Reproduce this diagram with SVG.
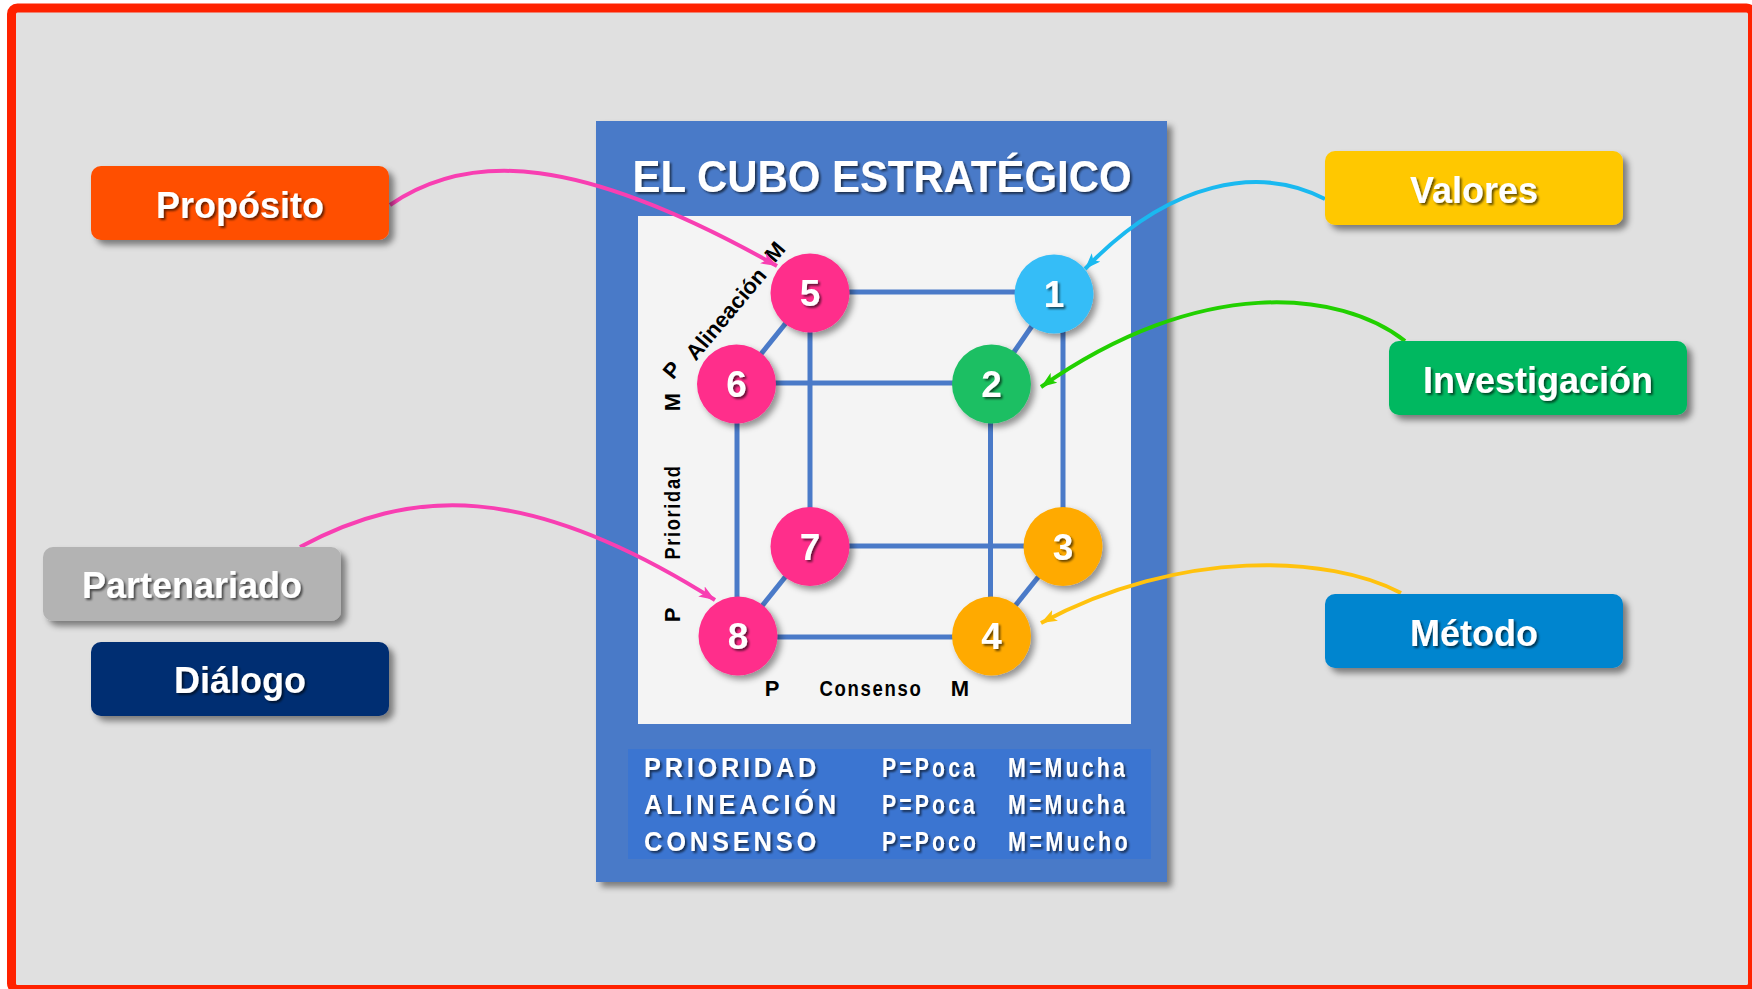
<svg xmlns="http://www.w3.org/2000/svg" width="1752" height="989" viewBox="0 0 1752 989">
<style>
.lbl{font-family:"Liberation Sans",Arial,sans-serif;font-weight:bold;font-size:36px;fill:#fff;text-anchor:middle}
.num{font-family:"Liberation Sans",Arial,sans-serif;font-weight:bold;font-size:37px;fill:#fff;text-anchor:middle}
.ax{font-family:"Liberation Sans",Arial,sans-serif;font-weight:bold;font-size:22px;fill:#000;text-anchor:middle}
.leg{font-family:"Liberation Sans",Arial,sans-serif;font-weight:bold;font-size:27px;fill:#fff}
.edge{stroke:#4a7ac8;stroke-width:5;fill:none}
.conn{fill:none;stroke-width:4}
</style>
<defs>
<filter id="bsh" x="-10%" y="-10%" width="130%" height="140%"><feDropShadow dx="5" dy="5" stdDeviation="3" flood-color="#000" flood-opacity="0.45"/></filter>
<filter id="csh" x="-20%" y="-20%" width="150%" height="150%"><feDropShadow dx="4" dy="4" stdDeviation="3" flood-color="#000" flood-opacity="0.4"/></filter>
<filter id="tsh" x="-10%" y="-20%" width="130%" height="150%"><feDropShadow dx="2" dy="2" stdDeviation="1" flood-color="#000" flood-opacity="0.6"/></filter>
<marker id="aPink" viewBox="0 0 16 12" refX="16" refY="6" markerWidth="16" markerHeight="12" markerUnits="userSpaceOnUse" orient="auto"><path d="M0,0 L16,6 L0,12 L4,6 Z" fill="#f83fb2"/></marker>
<marker id="aBlue" viewBox="0 0 16 12" refX="16" refY="6" markerWidth="16" markerHeight="12" markerUnits="userSpaceOnUse" orient="auto"><path d="M0,0 L16,6 L0,12 L4,6 Z" fill="#1ab9f0"/></marker>
<marker id="aGreen" viewBox="0 0 16 12" refX="16" refY="6" markerWidth="16" markerHeight="12" markerUnits="userSpaceOnUse" orient="auto"><path d="M0,0 L16,6 L0,12 L4,6 Z" fill="#22d000"/></marker>
<marker id="aYellow" viewBox="0 0 16 12" refX="16" refY="6" markerWidth="16" markerHeight="12" markerUnits="userSpaceOnUse" orient="auto"><path d="M0,0 L16,6 L0,12 L4,6 Z" fill="#ffc20e"/></marker>
</defs>
<rect x="0" y="0" width="1752" height="989" fill="#ffffff"/>
<rect x="11.5" y="8" width="1741" height="981.5" rx="6" fill="#e0e0e0" stroke="#ff2200" stroke-width="9"/>

<g id="panel">
<rect x="596" y="121" width="571" height="761" fill="#4a7ac8" filter="url(#bsh)"/>
<text x="882" y="192" font-family="Liberation Sans, Arial, sans-serif" font-weight="bold" font-size="45" fill="#fff" text-anchor="middle" textLength="499" lengthAdjust="spacingAndGlyphs" filter="url(#tsh)">EL CUBO ESTRATÉGICO</text>
<rect x="638" y="216" width="493" height="508" fill="#f4f4f4"/>
<rect x="628" y="749" width="523" height="110" fill="#3b75d1"/>
<g filter="url(#tsh)">
<text class="leg" x="644" y="777" textLength="176" lengthAdjust="spacingAndGlyphs" letter-spacing="4">PRIORIDAD</text>
<text class="leg" x="644" y="814" textLength="196" lengthAdjust="spacingAndGlyphs" letter-spacing="4">ALINEACIÓN</text>
<text class="leg" x="644" y="851" textLength="176" lengthAdjust="spacingAndGlyphs" letter-spacing="4">CONSENSO</text>
<text class="leg" x="882" y="777" textLength="96" lengthAdjust="spacingAndGlyphs" letter-spacing="4">P=Poca</text>
<text class="leg" x="882" y="814" textLength="96" lengthAdjust="spacingAndGlyphs" letter-spacing="4">P=Poca</text>
<text class="leg" x="882" y="851" textLength="97" lengthAdjust="spacingAndGlyphs" letter-spacing="4">P=Poco</text>
<text class="leg" x="1008" y="777" textLength="120" lengthAdjust="spacingAndGlyphs" letter-spacing="4">M=Mucha</text>
<text class="leg" x="1008" y="814" textLength="120" lengthAdjust="spacingAndGlyphs" letter-spacing="4">M=Mucha</text>
<text class="leg" x="1008" y="851" textLength="123" lengthAdjust="spacingAndGlyphs" letter-spacing="4">M=Mucho</text>
</g>
</g>

<g id="cube-edges">
<line class="edge" x1="810" y1="292" x2="1054" y2="292"/>
<line class="edge" x1="737" y1="383" x2="992" y2="383"/>
<line class="edge" x1="810" y1="546" x2="1063" y2="546"/>
<line class="edge" x1="738" y1="637" x2="991" y2="637"/>
<line class="edge" x1="737" y1="384" x2="737" y2="636"/>
<line class="edge" x1="810" y1="293" x2="810" y2="546"/>
<line class="edge" x1="990.5" y1="384" x2="990.5" y2="636"/>
<line class="edge" x1="1063" y1="294" x2="1063" y2="546"/>
<line class="edge" x1="810" y1="293" x2="737" y2="384"/>
<line class="edge" x1="1054" y1="294" x2="992" y2="384"/>
<line class="edge" x1="810" y1="546" x2="738" y2="636"/>
<line class="edge" x1="1063" y1="546" x2="991" y2="636"/>
</g>

<g id="axis-labels">
<text class="ax" x="672" y="370" dominant-baseline="central" transform="rotate(-50 672 370)">P</text>
<text class="ax" x="726" y="314" dominant-baseline="central" textLength="112" lengthAdjust="spacingAndGlyphs" transform="rotate(-50 726 314)">Alineación</text>
<text class="ax" x="775" y="252" dominant-baseline="central" transform="rotate(-50 775 252)">M</text>
<text class="ax" x="672" y="402" dominant-baseline="central" transform="rotate(-90 672 402)">M</text>
<text class="ax" x="672" y="512" dominant-baseline="central" textLength="95" lengthAdjust="spacingAndGlyphs" letter-spacing="2" transform="rotate(-90 672 512)">Prioridad</text>
<text class="ax" x="672" y="615" dominant-baseline="central" transform="rotate(-90 672 615)">P</text>
<text class="ax" x="772" y="696">P</text>
<text class="ax" x="871" y="696" textLength="103" lengthAdjust="spacingAndGlyphs" letter-spacing="2">Consenso</text>
<text class="ax" x="960" y="696">M</text>
</g>

<g id="node-5"><circle cx="810" cy="293" r="39.5" fill="#ff2d8b" filter="url(#csh)"/><text class="num" x="810" y="306" filter="url(#tsh)">5</text></g>
<g id="node-1"><circle cx="1054" cy="294" r="39.5" fill="#36bdf7" filter="url(#csh)"/><text class="num" x="1054" y="307" filter="url(#tsh)">1</text></g>
<g id="node-6"><circle cx="736.5" cy="384" r="39.5" fill="#ff2d8b" filter="url(#csh)"/><text class="num" x="736.5" y="397" filter="url(#tsh)">6</text></g>
<g id="node-2"><circle cx="991.5" cy="384" r="39.5" fill="#1fbf63" filter="url(#csh)"/><text class="num" x="991.5" y="397" filter="url(#tsh)">2</text></g>
<g id="node-7"><circle cx="810" cy="546.5" r="39.5" fill="#ff2d8b" filter="url(#csh)"/><text class="num" x="810" y="559.5" filter="url(#tsh)">7</text></g>
<g id="node-3"><circle cx="1063" cy="546.5" r="39.5" fill="#ffaa00" filter="url(#csh)"/><text class="num" x="1063" y="559.5" filter="url(#tsh)">3</text></g>
<g id="node-8"><circle cx="738" cy="636" r="39.5" fill="#ff2d8b" filter="url(#csh)"/><text class="num" x="738" y="649" filter="url(#tsh)">8</text></g>
<g id="node-4"><circle cx="991.5" cy="636" r="39.5" fill="#ffaa00" filter="url(#csh)"/><text class="num" x="991.5" y="649" filter="url(#tsh)">4</text></g>

<g id="connectors">
<path class="conn" stroke="#f83fb2" d="M390,205 C470,150 580,155 777,266" marker-end="url(#aPink)"/>
<path class="conn" stroke="#f83fb2" d="M300,547 C410,488 525,480 715,600" marker-end="url(#aPink)"/>
<path class="conn" stroke="#1ab9f0" d="M1325,199 C1260,165 1170,180 1085,269" marker-end="url(#aBlue)"/>
<path class="conn" stroke="#22d000" d="M1405,341 C1340,290 1200,275 1041,387" marker-end="url(#aGreen)"/>
<path class="conn" stroke="#ffc20e" d="M1401,593 C1330,555 1180,548 1041,623" marker-end="url(#aYellow)"/>
</g>

<g id="proposito"><rect x="91" y="166" width="298" height="74" rx="10" fill="#ff4f00" filter="url(#bsh)"/><text class="lbl" x="240" y="218" filter="url(#tsh)">Propósito</text></g>
<g id="partenariado"><rect x="43" y="547" width="298" height="74" rx="10" fill="#b3b3b3" filter="url(#bsh)"/><text class="lbl" x="192" y="598" filter="url(#tsh)">Partenariado</text></g>
<g id="dialogo"><rect x="91" y="642" width="298" height="74" rx="10" fill="#002d72" filter="url(#bsh)"/><text class="lbl" x="240" y="693" filter="url(#tsh)">Diálogo</text></g>
<g id="valores"><rect x="1325" y="151" width="298" height="74" rx="10" fill="#ffc800" filter="url(#bsh)"/><text class="lbl" x="1474" y="203" filter="url(#tsh)">Valores</text></g>
<g id="investigacion"><rect x="1389" y="341" width="298" height="74" rx="10" fill="#00b860" filter="url(#bsh)"/><text class="lbl" x="1538" y="393" filter="url(#tsh)">Investigación</text></g>
<g id="metodo"><rect x="1325" y="594" width="298" height="74" rx="10" fill="#0085cf" filter="url(#bsh)"/><text class="lbl" x="1474" y="646" filter="url(#tsh)">Método</text></g>
</svg>
